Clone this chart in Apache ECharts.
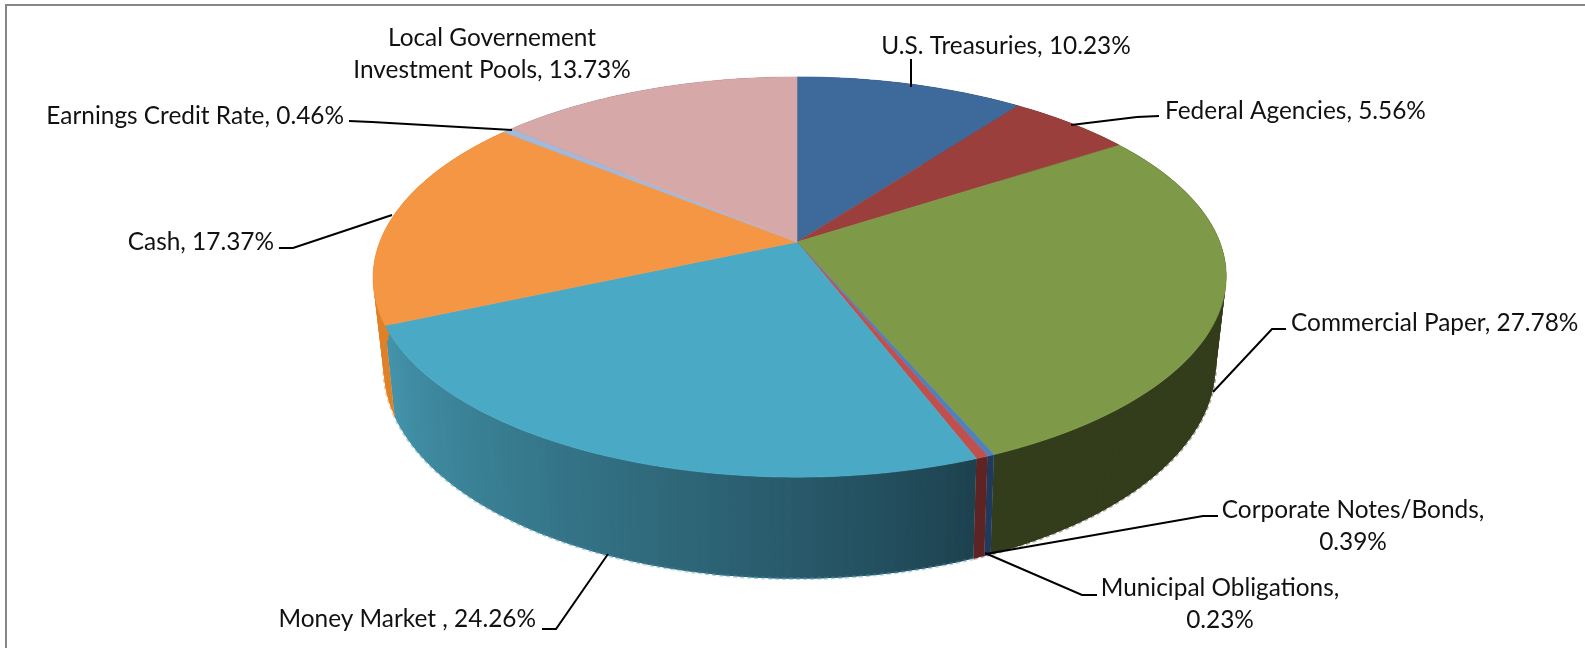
<!DOCTYPE html>
<html>
<head>
<meta charset="utf-8">
<title>Portfolio allocation</title>
<script src="https://cdn.jsdelivr.net/npm/echarts@6/dist/echarts.min.js"></script>
<style>
  html, body { margin: 0; padding: 0; background: #fff; }
  #chart { width: 1585px; height: 648px; }
</style>
</head>
<body>
<div id="chart"></div>
<script>
// Allocation by instrument, clockwise from twelve o'clock.
const categories = [
  'U.S. Treasuries', 'Federal Agencies', 'Commercial Paper', 'Municipal Obligations',
  'Corporate Notes/Bonds', 'Money Market ', 'Cash', 'Earnings Credit Rate',
  'Local Governement\nInvestment Pools'
];
const shares = [10.23, 5.56, 27.78, 0.23, 0.39, 24.26, 17.37, 0.46, 13.73];

const faceColors = ['#3e6a9b', '#9b3f3d', '#7e9a48', '#4f81bd', '#c0504d', '#4aa9c4', '#f59645', '#a4b8d8', '#d6a8a8'];
// Wall shade at the clockwise start and end of each slice.
const wallColors = [
  ['#25405e', '#25405e'], ['#5e2625', '#5e2625'], ['#323b1a', '#333c1b'],
  ['#1f3a5c', '#1f3a5c'], ['#5e2423', '#5e2423'], ['#1d414f', '#4394ab'],
  ['#e08028', '#e08028'], ['#64708a', '#64708a'], ['#826666', '#826666']
];

// Leader lines and label anchors, in canvas pixels, one entry per category.
const labelLayout = [
  { x: 1006, y: 46, align: 'center', line: [[911, 59], [911, 87]] },
  { x: 1165, y: 111, align: 'left', line: [[1159, 116], [1137, 117], [1071, 125]] },
  { x: 1291, y: 323, align: 'left', line: [[1286, 329], [1272, 329], [1213, 392]] },
  { x: 1220, y: 604, align: 'center', wrap: true, line: [[1097, 595], [1082, 595], [985, 553]] },
  { x: 1353, y: 526, align: 'center', wrap: true, line: [[1218, 516], [1203, 516], [986, 554]] },
  { x: 536, y: 619, align: 'right', line: [[542, 629], [556, 629], [608, 554]] },
  { x: 274, y: 242, align: 'right', line: [[279, 248], [293, 248], [392, 215]] },
  { x: 344, y: 116, align: 'right', line: [[349, 121], [372, 122], [512, 130]] },
  { x: 492, y: 54, align: 'center', line: null }
];

// Perspective model of the disc: the apex sits at (cx, cy) and the near rim is
// enlarged by the denominator, the lower rim is pushed down and slightly away.
const cx = 797, cy = 242, rx = 420, ry = 194, tilt = 0.175;
const drop = 88, lowerTilt = 0.19, lowerShrink = 0.0277, sideShift = 2.8;

const total = shares.reduce((a, b) => a + b, 0);
const starts = [];
shares.reduce((sum, v, i) => { starts[i] = sum; return sum + v; }, 0);

function topRim(a) {
  const X = Math.sin(a), Y = Math.cos(a), w = 1 + tilt * Y;
  const nudge = sideShift * Math.pow(1 - Y * Y, 2);
  return [cx + nudge + rx * X / w, cy - ry * Y / w];
}
function lowerRim(a) {
  const X = Math.sin(a), Y = Math.cos(a), w = 1 + lowerTilt * Y + lowerShrink;
  const nudge = sideShift * Math.pow(1 - Y * Y, 2);
  return [cx + nudge + rx * X / w, cy - (ry * Y - drop) / w];
}
function sliceAngles(i, step) {
  const a0 = starts[i] / total * 2 * Math.PI;
  const a1 = (starts[i] + shares[i]) / total * 2 * Math.PI;
  const n = Math.max(2, Math.ceil((a1 - a0) / step));
  const list = [];
  for (let k = 0; k <= n; k++) list.push(a0 + (a1 - a0) * k / n);
  return list;
}
function hexMix(c0, c1, t) {
  const p = c => [1, 3, 5].map(o => parseInt(c.substr(o, 2), 16));
  const a = p(c0), b = p(c1);
  return 'rgb(' + a.map((v, i) => Math.round(v + (b[i] - v) * t)).join(',') + ')';
}

const seriesData = categories.map((name, i) => ({ name, value: [shares[i]] }));

function renderWall(params) {
  const i = params.dataIndex;
  const angles = sliceAngles(i, 1.2 * Math.PI / 180);
  const last = angles.length - 1;
  const children = [];
  // Each band runs one step past the next so no seam shows between neighbours.
  for (let k = 0; k < last; k++) {
    const fill = hexMix(wallColors[i][0], wallColors[i][1], Math.pow(k / Math.max(1, last - 1), 0.85));
    const a0 = angles[k], a1 = angles[Math.min(k + 2, last)];
    children.push({
      type: 'polygon',
      shape: { points: [topRim(a0), topRim((a0 + a1) / 2), topRim(a1), lowerRim(a1), lowerRim((a0 + a1) / 2), lowerRim(a0)] },
      style: { fill }
    });
  }
  // Pale broken rim along the underside of the front walls.
  const front = angles.filter(a => Math.cos(a) < 0.1);
  if (front.length > 1) {
    children.push({
      type: 'polyline',
      shape: { points: front.map(lowerRim) },
      style: { fill: 'none', stroke: wallColors[i][1], opacity: 0.4, lineWidth: 3, lineDash: [4, 3] }
    });
  }
  return { type: 'group', children };
}

function renderFace(params) {
  const i = params.dataIndex;
  const points = [[cx, cy]].concat(sliceAngles(i, 0.4 * Math.PI / 180).map(topRim));
  return {
    type: 'polygon',
    shape: { points },
    style: { fill: faceColors[i], stroke: faceColors[i], lineWidth: 0.6 }
  };
}

function labelText(i) {
  const sep = labelLayout[i].wrap ? ',\n' : ', ';
  return categories[i] + sep + shares[i].toFixed(2) + '%';
}

function renderLabel(params) {
  const i = params.dataIndex, layout = labelLayout[i];
  const children = [{
    type: 'text',
    style: {
      x: layout.x, y: layout.y, text: labelText(i),
      fill: '#111', font: '400 24.4px Lato, "Open Sans", sans-serif',
      align: layout.align, verticalAlign: 'middle', lineHeight: 32
    }
  }];
  if (layout.line) {
    children.push({
      type: 'polyline',
      shape: { points: layout.line },
      style: { fill: 'none', stroke: '#000', lineWidth: 2 }
    });
  }
  return { type: 'group', children };
}

const chart = echarts.init(document.getElementById('chart'), null, { renderer: 'canvas' });
chart.setOption({
  animation: false,
  backgroundColor: '#fff',
  graphic: [{
    type: 'polyline',
    silent: true,
    shape: { points: [[6, 648], [6, 5], [1585, 5]] },
    style: { fill: 'none', stroke: '#868686', lineWidth: 2 }
  }],
  series: [
    { type: 'custom', name: 'Walls', coordinateSystem: 'none', z: 1, silent: true, data: seriesData, renderItem: renderWall },
    { type: 'custom', name: 'Faces', coordinateSystem: 'none', z: 2, silent: true, data: seriesData, renderItem: renderFace },
    { type: 'custom', name: 'Labels', coordinateSystem: 'none', z: 3, silent: true, data: seriesData, renderItem: renderLabel }
  ]
});
</script>
</body>
</html>
